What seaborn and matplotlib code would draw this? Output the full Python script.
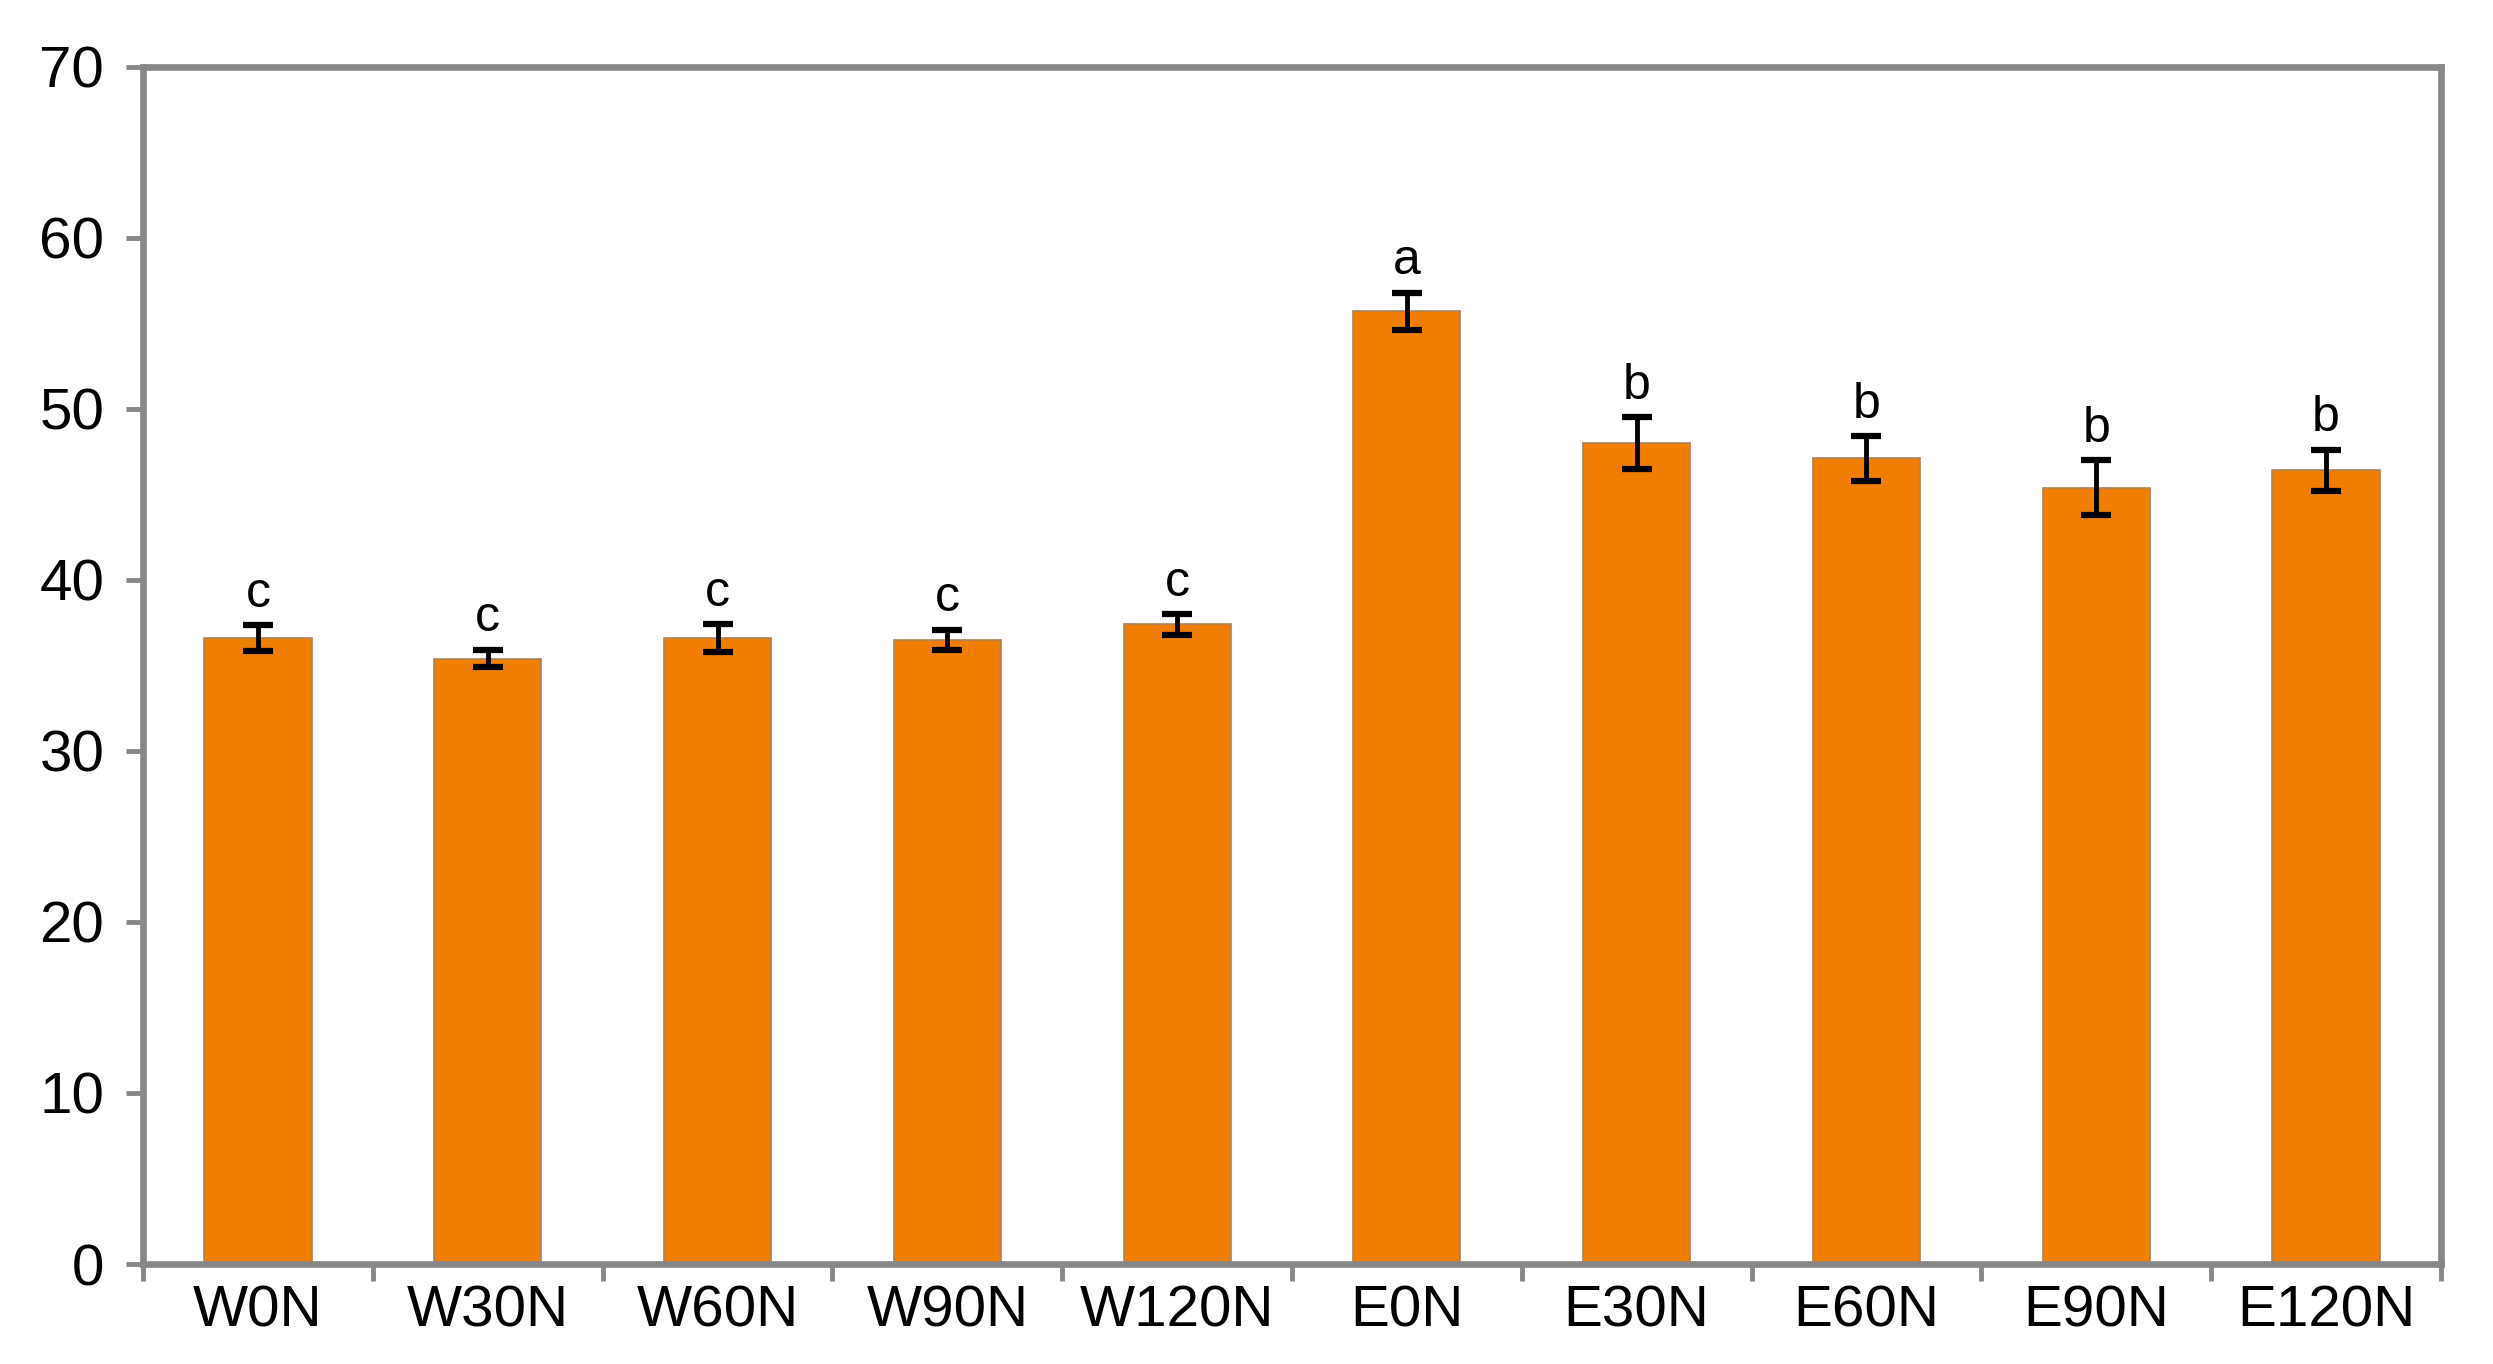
import seaborn as sns
import matplotlib.pyplot as plt
import pandas as pd

treatments = ["W0N", "W30N", "W60N", "W90N", "W120N",
              "E0N", "E30N", "E60N", "E90N", "E120N"]
means = [36.6, 35.4, 36.6, 36.5, 37.4, 55.7, 48.0, 47.1, 45.4, 46.4]
errors = [0.75, 0.5, 0.8, 0.6, 0.6, 1.1, 1.5, 1.3, 1.6, 1.2]
letters = ["c", "c", "c", "c", "c", "a", "b", "b", "b", "b"]

df = pd.DataFrame({"treatment": treatments, "value": means})

sns.set_style("white")
plt.rcParams["font.family"] = ["Liberation Sans", "DejaVu Sans"]
plt.rcParams["text.color"] = "black"
plt.rcParams["xtick.labelcolor"] = "black"
plt.rcParams["ytick.labelcolor"] = "black"

fig = plt.figure(figsize=(24.93, 13.64), dpi=100)
ax = fig.add_axes([0.0574, 0.0733, 0.9217, 0.8777])

sns.barplot(data=df, x="treatment", y="value", color="#F07F00",
            width=0.466, edgecolor="#A8845C", linewidth=1.2,
            saturation=1, ax=ax)

ax.errorbar(range(len(treatments)), means, yerr=errors, fmt="none",
            ecolor="black", elinewidth=3.5, capsize=11, capthick=4.5)

for i, (m, e, lab) in enumerate(zip(means, errors, letters)):
    ax.text(i, m + e + 0.5, lab, ha="center", va="bottom", fontsize=36,
            color="black")

ax.set_xlim(-0.5, len(treatments) - 0.5)
ax.set_ylim(0, 70)
ax.set_yticks(range(0, 71, 10))
ax.set_xlabel("")
ax.set_ylabel("")

# boundary ticks between categories, labels at centres
ax.set_xticks([i - 0.5 for i in range(len(treatments) + 1)], minor=True)
ax.tick_params(axis="x", which="major", bottom=True, length=0, pad=15,
               labelsize=42, labelcolor="black")
ax.tick_params(axis="x", which="minor", bottom=True, length=12, width=3.5,
               color="#878787", direction="out")
ax.tick_params(axis="y", left=True, length=12, width=3.5, color="#878787",
               direction="out", labelsize=42, pad=16, labelcolor="black")

for side in ["left", "right", "top", "bottom"]:
    ax.spines[side].set_visible(True)
    ax.spines[side].set_color("#878787")
    ax.spines[side].set_linewidth(4.8)

fig.savefig("out.png", dpi=100, facecolor="white")
